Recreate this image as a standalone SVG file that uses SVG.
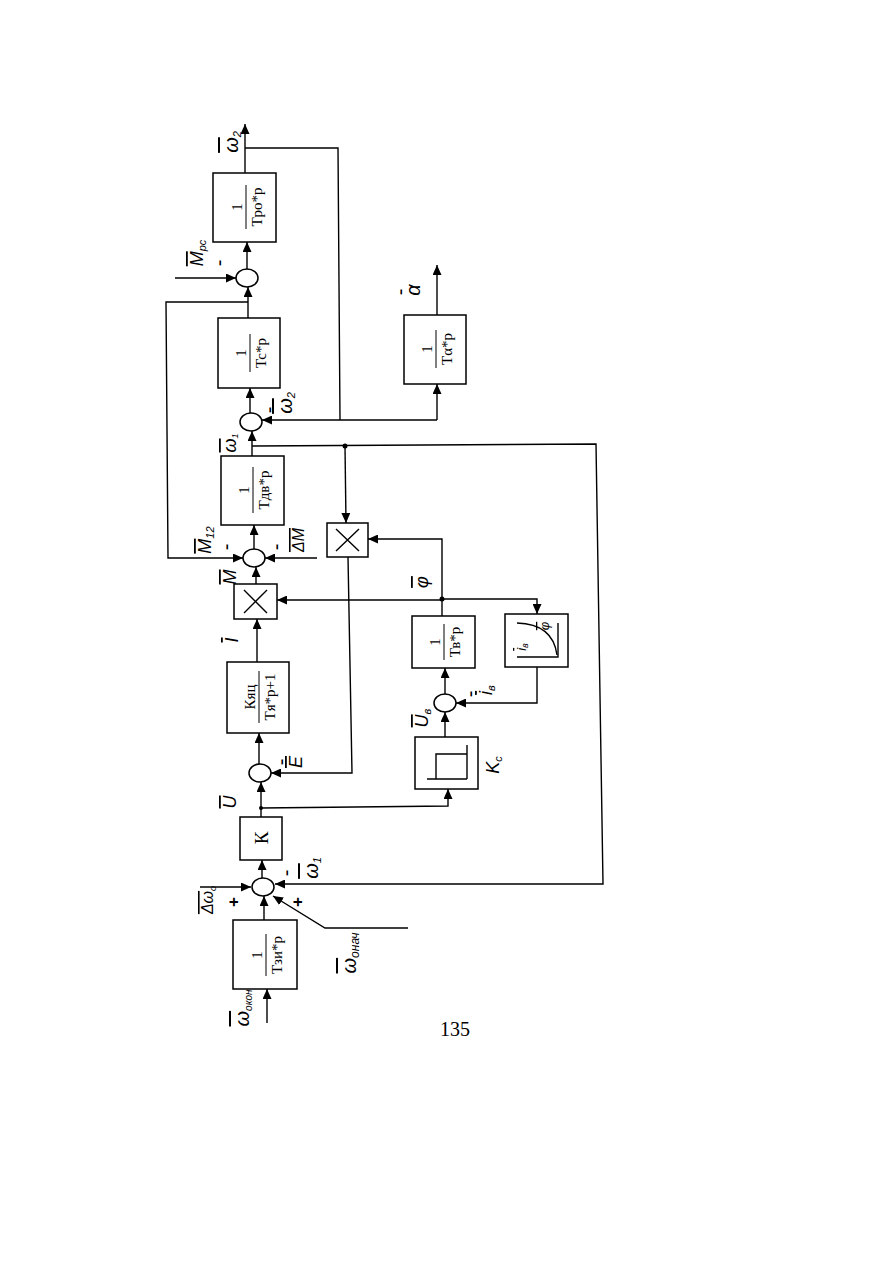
<svg xmlns="http://www.w3.org/2000/svg" width="893" height="1263" viewBox="0 0 893 1263">
<style>
.ln{fill:none;stroke:#000;stroke-width:1.4}
.bx{fill:#fff;stroke:#000;stroke-width:1.5}
.sm{fill:#fff;stroke:#000;stroke-width:1.5}
.fr{font-family:"Liberation Serif",serif;font-size:15px;fill:#000}
.lb{font-family:"Liberation Sans",sans-serif;font-style:italic;font-size:18px;fill:#000}
.ov{text-decoration:overline}
.sg{font-family:"Liberation Sans",sans-serif;font-size:20px;fill:#000}
.sub{font-size:11px}
</style>
<defs>
<marker id="ar" markerUnits="userSpaceOnUse" markerWidth="11" markerHeight="9" refX="10" refY="4.5" orient="auto">
<path d="M0,0 L10,4.5 L0,9 z" fill="#000"/>
</marker>
</defs>
<rect width="893" height="1263" fill="#fff"/>

<g id="connectors">
<line class="ln" x1="245" y1="173" x2="245" y2="124" marker-end="url(#ar)"/>
<polyline class="ln" points="245,148 338,148 340,420"/>
<line class="ln" x1="247" y1="269" x2="247" y2="242" marker-end="url(#ar)"/>
<line class="ln" x1="175" y1="278" x2="236" y2="278" marker-end="url(#ar)"/>
<line class="ln" x1="248" y1="318" x2="248" y2="287" marker-end="url(#ar)"/>
<polyline class="ln" points="248,302 166,302 168,558 243,558" marker-end="url(#ar)"/>
<line class="ln" x1="250" y1="413" x2="250" y2="388" marker-end="url(#ar)"/>
<line class="ln" x1="437" y1="420" x2="262" y2="420" marker-end="url(#ar)"/>
<line class="ln" x1="437" y1="420" x2="437" y2="384" marker-end="url(#ar)"/>
<line class="ln" x1="437" y1="315" x2="437" y2="265" marker-end="url(#ar)"/>
<line class="ln" x1="252" y1="456" x2="252" y2="431" marker-end="url(#ar)"/>
<polyline class="ln" points="252,446 596,444 603,884 275,884" marker-end="url(#ar)"/>
<line class="ln" x1="345" y1="446" x2="346" y2="523" marker-end="url(#ar)"/>
<line class="ln" x1="254" y1="549" x2="254" y2="525" marker-end="url(#ar)"/>
<line class="ln" x1="317" y1="558" x2="265" y2="558" marker-end="url(#ar)"/>
<line class="ln" x1="256" y1="584" x2="256" y2="567" marker-end="url(#ar)"/>
<line class="ln" x1="257" y1="662" x2="257" y2="619" marker-end="url(#ar)"/>
<line class="ln" x1="442" y1="600" x2="277" y2="600" marker-end="url(#ar)"/>
<polyline class="ln" points="442,600 442,539 368,539" marker-end="url(#ar)"/>
<polyline class="ln" points="442,599 537,599 537,614" marker-end="url(#ar)"/>
<line class="ln" x1="442" y1="616" x2="442" y2="599"/>
<polyline class="ln" points="537,667 537,703 456,703" marker-end="url(#ar)"/>
<line class="ln" x1="445" y1="694" x2="445" y2="668" marker-end="url(#ar)"/>
<line class="ln" x1="445" y1="737" x2="445" y2="712" marker-end="url(#ar)"/>
<polyline class="ln" points="348,557 352,773 271,773" marker-end="url(#ar)"/>
<line class="ln" x1="259" y1="764" x2="259" y2="733" marker-end="url(#ar)"/>
<line class="ln" x1="261" y1="817" x2="261" y2="782" marker-end="url(#ar)"/>
<polyline class="ln" points="261,808 448,806 448,789" marker-end="url(#ar)"/>
<line class="ln" x1="262" y1="878" x2="262" y2="860" marker-end="url(#ar)"/>
<line class="ln" x1="200" y1="887" x2="251" y2="887" marker-end="url(#ar)"/>
<line class="ln" x1="264" y1="920" x2="264" y2="896" marker-end="url(#ar)"/>
<polyline class="ln" points="408,928 325,928 273,896" marker-end="url(#ar)"/>
<line class="ln" x1="267" y1="1023" x2="267" y2="989" marker-end="url(#ar)"/>
<circle cx="345" cy="446" r="2.5" fill="#000"/>
<circle cx="442" cy="599" r="2.5" fill="#000"/>
<circle cx="261" cy="808" r="2" fill="#000"/>
</g>

<g id="Tpo">
<rect class="bx" x="213" y="173" width="63" height="69"/>
<g transform="translate(245,207) rotate(-90)">
<text class="fr" x="0" y="-3" text-anchor="middle">1</text>
<line x1="-22" y1="1" x2="22" y2="1" stroke="#000" stroke-width="1"/>
<text class="fr" x="0" y="17" text-anchor="middle">Tро*р</text>
</g>
</g>
<g id="sumMpc"><ellipse class="sm" cx="247" cy="278" rx="11" ry="9"/></g>
<g id="Tc">
<rect class="bx" x="218" y="318" width="62" height="70"/>
<g transform="translate(249,353) rotate(-90)">
<text class="fr" x="0" y="-3" text-anchor="middle">1</text>
<line x1="-19" y1="1" x2="19" y2="1" stroke="#000" stroke-width="1"/>
<text class="fr" x="0" y="17" text-anchor="middle">Tc*р</text>
</g>
</g>
<g id="sumW2"><ellipse class="sm" cx="251" cy="422" rx="11" ry="9"/></g>
<g id="Talpha">
<rect class="bx" x="404" y="315" width="62" height="69"/>
<g transform="translate(435,349) rotate(-90)">
<text class="fr" x="0" y="-3" text-anchor="middle">1</text>
<line x1="-19" y1="1" x2="19" y2="1" stroke="#000" stroke-width="1"/>
<text class="fr" x="0" y="17" text-anchor="middle">Tα*р</text>
</g>
</g>
<g id="Tdv">
<rect class="bx" x="221" y="456" width="63" height="69"/>
<g transform="translate(252,490) rotate(-90)">
<text class="fr" x="0" y="-3" text-anchor="middle">1</text>
<line x1="-23" y1="1" x2="23" y2="1" stroke="#000" stroke-width="1"/>
<text class="fr" x="0" y="17" text-anchor="middle">Тдв*р</text>
</g>
</g>
<g id="sumM12"><ellipse class="sm" cx="254" cy="558" rx="11" ry="9"/></g>
<g id="mult1">
<rect class="bx" x="234" y="584" width="43" height="35"/>
<path class="ln" d="M244,590 L267,613 M267,590 L244,613"/>
</g>
<g id="mult2">
<rect class="bx" x="327" y="523" width="41" height="34"/>
<path class="ln" d="M336,529 L359,551 M359,529 L336,551"/>
</g>
<g id="Kyac">
<rect class="bx" x="227" y="662" width="62" height="71"/>
<g transform="translate(258,697) rotate(-90)">
<text class="fr" x="0" y="-3" text-anchor="middle">Кяц</text>
<line x1="-26" y1="1" x2="26" y2="1" stroke="#000" stroke-width="1"/>
<text class="fr" x="0" y="17" text-anchor="middle">Tя*р+1</text>
</g>
</g>
<g id="Tv">
<rect class="bx" x="412" y="616" width="63" height="52"/>
<g transform="translate(443,642) rotate(-90)">
<text class="fr" x="0" y="-3" text-anchor="middle">1</text>
<line x1="-18" y1="1" x2="18" y2="1" stroke="#000" stroke-width="1"/>
<text class="fr" x="0" y="17" text-anchor="middle">Тв*р</text>
</g>
</g>
<g id="NL">
<rect class="bx" x="505" y="614" width="63" height="53"/>
<path class="ln" d="M558,623 L558,657 L517,657"/>
<path class="ln" d="M517,623 Q553,624 557,655"/>
<text class="lb" style="font-size:13px" transform="translate(549,626) rotate(-90)" text-anchor="middle"><tspan class="ov">φ</tspan></text>
<text class="lb" style="font-size:13px" transform="translate(526,647) rotate(-90)" text-anchor="middle"><tspan class="ov">i</tspan><tspan style="font-size:9px" dy="2">в</tspan></text>
</g>
<g id="sumIv"><ellipse class="sm" cx="445" cy="703" rx="11" ry="9"/></g>
<g id="Kc">
<rect class="bx" x="415" y="737" width="63" height="52"/>
<path class="ln" d="M427,779 L467,779 M436,779 L436,754 L467,754 M467,745 L467,779"/>
</g>
<g id="sumE"><ellipse class="sm" cx="260" cy="773" rx="11" ry="9"/></g>
<g id="K">
<rect class="bx" x="240" y="817" width="42" height="43"/>
<text class="fr" style="font-size:19px" transform="translate(268,838) rotate(-90)" text-anchor="middle">К</text>
</g>
<g id="sumW1"><ellipse class="sm" cx="263" cy="887" rx="11" ry="9"/></g>
<g id="Tzi">
<rect class="bx" x="233" y="920" width="64" height="69"/>
<g transform="translate(265,955) rotate(-90)">
<text class="fr" x="0" y="-3" text-anchor="middle">1</text>
<line x1="-21" y1="1" x2="21" y2="1" stroke="#000" stroke-width="1"/>
<text class="fr" x="0" y="17" text-anchor="middle">Тзи*р</text>
</g>
</g>

<g id="labels">
<text class="lb" style="font-size:20px" transform="translate(238,142) rotate(-90)" text-anchor="middle"><tspan class="ov">ω</tspan><tspan class="sub" dy="3">2</tspan></text>
<text class="lb" transform="translate(203,253) rotate(-90)" text-anchor="middle"><tspan class="ov">M</tspan><tspan class="sub" dy="3">рс</tspan></text>
<text class="sg" transform="translate(226,263) rotate(-90)" text-anchor="middle">-</text>
<text class="sg" transform="translate(276,410) rotate(-90)" text-anchor="middle">-</text>
<text class="lb" style="font-size:20px" transform="translate(292,403) rotate(-90)" text-anchor="middle"><tspan class="ov">ω</tspan><tspan class="sub" dy="3">2</tspan></text>
<text class="lb" transform="translate(236,443) rotate(-90)" text-anchor="middle"><tspan class="ov">ω</tspan><tspan style="font-size:9px" dy="2">1</tspan></text>
<text class="lb" transform="translate(211,540) rotate(-90)" text-anchor="middle"><tspan class="ov">M</tspan><tspan class="sub" dy="3">12</tspan></text>
<text class="sg" transform="translate(233,547) rotate(-90)" text-anchor="middle">-</text>
<text class="sg" transform="translate(283,547) rotate(-90)" text-anchor="middle">-</text>
<text class="lb" style="font-size:16px" transform="translate(304,540) rotate(-90)" text-anchor="middle"><tspan class="ov">ΔM</tspan></text>
<text class="lb" transform="translate(236,577) rotate(-90)" text-anchor="middle"><tspan class="ov">M</tspan></text>
<text class="lb" transform="translate(238,640) rotate(-90)" text-anchor="middle"><tspan class="ov">I</tspan></text>
<text class="lb" transform="translate(428,582) rotate(-90)" text-anchor="middle"><tspan class="ov">φ</tspan></text>
<text class="sg" transform="translate(477,694) rotate(-90)" text-anchor="middle">-</text>
<text class="lb" transform="translate(492,690) rotate(-90)" text-anchor="middle"><tspan class="ov">i</tspan><tspan class="sub" dy="3">в</tspan></text>
<text class="lb" transform="translate(428,718) rotate(-90)" text-anchor="middle"><tspan class="ov">U</tspan><tspan class="sub" dy="3">в</tspan></text>
<text class="lb" transform="translate(499,765) rotate(-90)" text-anchor="middle">K<tspan class="sub" dy="3">c</tspan></text>
<text class="sg" transform="translate(288,762) rotate(-90)" text-anchor="middle">-</text>
<text class="lb" transform="translate(302,762) rotate(-90)" text-anchor="middle"><tspan class="ov">E</tspan></text>
<text class="lb" transform="translate(236,802) rotate(-90)" text-anchor="middle"><tspan class="ov">U</tspan></text>
<text class="sg" transform="translate(293,873) rotate(-90)" text-anchor="middle">-</text>
<text class="lb" style="font-size:20px" transform="translate(318,868) rotate(-90)" text-anchor="middle"><tspan class="ov">ω</tspan><tspan class="sub" dy="3">1</tspan></text>
<text class="sg" style="font-weight:bold;font-size:17px" transform="translate(239,902) rotate(-90)" text-anchor="middle">+</text>
<text class="lb" style="font-size:16px" transform="translate(213,900) rotate(-90)" text-anchor="middle"><tspan class="ov">Δω</tspan><tspan style="font-size:9px" dy="3">o</tspan></text>
<text class="sg" style="font-weight:bold;font-size:17px" transform="translate(303,902) rotate(-90)" text-anchor="middle">+</text>
<text class="lb" style="font-size:20px" transform="translate(356,953) rotate(-90)" text-anchor="middle"><tspan class="ov">ω</tspan><tspan style="font-size:12px" dy="3">онач</tspan></text>
<text class="lb" style="font-size:20px" transform="translate(249,1008) rotate(-90)" text-anchor="middle"><tspan class="ov">ω</tspan><tspan style="font-size:10px" dy="3">окон</tspan></text>
<text class="sg" transform="translate(407,292) rotate(-90)" text-anchor="middle">-</text>
<text class="lb" style="font-size:20px" transform="translate(420,290) rotate(-90)" text-anchor="middle">α</text>
<text x="455" y="1036" text-anchor="middle" style="font-family:'Liberation Serif',serif;font-size:20px">135</text>
</g>
</svg>
